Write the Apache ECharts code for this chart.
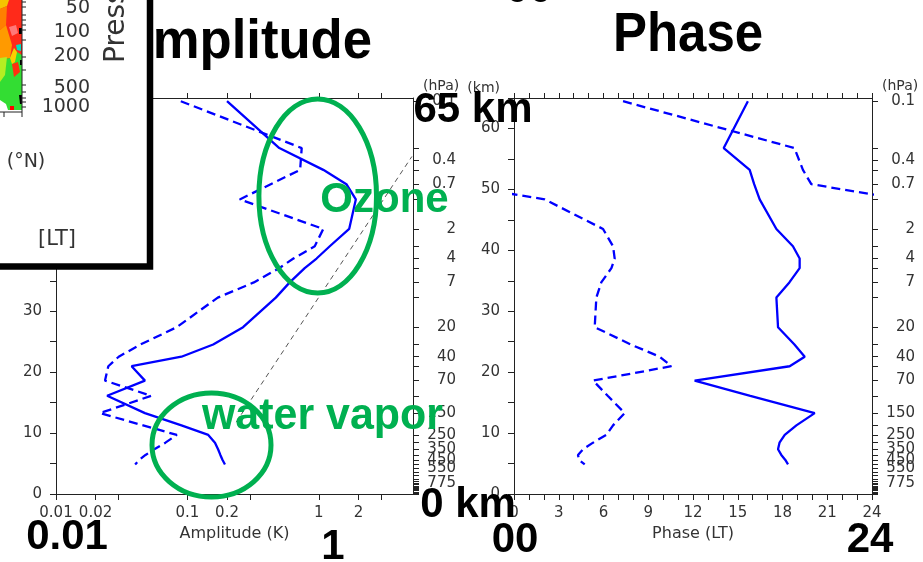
<!DOCTYPE html>
<html><head><meta charset="utf-8">
<script src="https://cdn.jsdelivr.net/npm/echarts@6/dist/echarts.min.js"></script>
<style>html,body{margin:0;padding:0;background:#fff}#c{width:923px;height:562px}</style>
</head><body><div id="c"></div>
<script>
// ---- data ----
const levelsHPa   = [0.1,0.3,0.5,0.7,1,2,3,4,5,7,10,20,30,40,50,70,100,150,200,250,300,350,400,450,500];
const ampSolid    = [0.20,0.50,1.08,1.62,1.91,1.70,1.21,0.96,0.78,0.60,0.47,0.265,0.157,0.090,0.0376,0.0475,0.0245,0.0475,0.090,0.144,0.162,0.171,0.178,0.185,0.193];
const ampDashed   = [0.089,0.74,0.72,0.43,0.25,1.08,0.93,0.64,0.50,0.32,0.17,0.083,0.044,0.030,0.025,0.0236,0.053,0.0216,0.046,0.083,0.068,0.056,0.048,0.043,0.040];
const phaseSolid  = [15.68,14.06,15.8,16.1,16.47,17.59,18.7,19.15,19.15,18.46,17.59,17.7,18.8,19.49,18.48,12.11,15.84,20.16,18.93,18.15,17.8,17.7,17.92,18.19,18.37];
const phaseDashed = [7.31,18.8,19.37,19.93,2.06,5.97,6.64,6.75,6.53,5.85,5.52,5.41,7.82,9.77,10.55,5.3,6.28,7.42,6.64,6.19,5.3,4.63,4.29,4.36,4.74];
const refLineAmp  = [0.235, 5.1];
const refLineKm   = [11.8, 55.4];
const ampTicks    = [0.01,0.02,0.03,0.1,0.2,0.3,1,2,3];
const ampLabels   = [0.01,0.02,0.1,0.2,1,2];
const kmLabels    = [0,10,20,30,40,50,60];
const phaseLabels = [0,3,6,9,12,15,18,21,24];
const pressureTicks  = [0.1,0.3,0.4,0.5,0.7,1,2,3,4,5,7,10,20,30,40,50,70,100,150,200,250,300,350,400,450,500,550,600,650,700,750,775,800,825,850,875,900,925,950,975,1000];
const pressureLabels = ['0.1','0.4','0.7','2','4','7','20','40','70','150','250','350','450','550','775'];
const insetLabels = ['50','100','200','500','1000'];

// pressure (hPa) -> log-pressure height (km), scale height 7 km
const H = 7;
const KM_MAX = 65;
const toKm = p => H * Math.log(1000 / p);
function pressureLabelFor(v){
  for (const s of pressureLabels) if (Math.abs(toKm(+s) - v) < 1e-6) return s;
  return '';
}
// blank guard labels at both ends of the axis (hidden by showMin/MaxLabel:false) so that
// every real, overlapping pressure label stays visible
const presLabelValues = [KM_MAX].concat(pressureLabels.map(s => toKm(+s)), [0]);
const presTickValues = (function(){
  const v = pressureTicks.map(toKm);
  return [v[0]].concat(v, [v[v.length-1]]);
})();

function wrapSegments(vals){
  const segs = [[]];
  for (let i = 0; i < vals.length; i++){
    const z = toKm(levelsHPa[i]);
    if (i > 0){
      const d = vals[i] - vals[i-1];
      if (Math.abs(d) > 12){
        const shift = d < 0 ? 24 : -24;
        segs[segs.length-1].push([vals[i] + shift, z]);
        segs.push([[vals[i-1] - shift, toKm(levelsHPa[i-1])]]);
      }
    }
    segs[segs.length-1].push([vals[i], z]);
  }
  return segs;
}

const AX = '#222';
const LBL = {color:'#333', fontFamily:'DejaVu Sans', fontSize:15};
const NAME = {color:'#333', fontFamily:'DejaVu Sans', fontSize:16};
const SHOWALL = {hideOverlap:false, showMinLabel:true, showMaxLabel:true};

function kmAxis(gi){
  return {type:'value', gridIndex:gi, position:'left', min:0, max:KM_MAX, interval:5,
    axisLine:{show:true, onZero:false, lineStyle:{color:AX}},
    axisTick:{show:true, length:6, lineStyle:{color:AX}},
    axisLabel:Object.assign({show:true, customValues:kmLabels, margin:14}, SHOWALL, LBL),
    splitLine:{show:false},
    name:'(km)', nameLocation:'end', nameGap:3,
    nameTextStyle:Object.assign({align:'right', padding:[0,14,0,0]}, NAME, {fontSize:14})};
}
function presAxis(gi){
  return {type:'value', gridIndex:gi, position:'right', min:0, max:KM_MAX,
    axisLine:{show:true, onZero:false, lineStyle:{color:AX}},
    axisTick:{show:true, length:6, customValues:presTickValues, lineStyle:{color:AX}},
    axisLabel:Object.assign({show:true, customValues:presLabelValues,
      formatter:v => pressureLabelFor(v), align:'right', margin:43, hideOverlap:false,
      showMinLabel:false, showMaxLabel:false}, LBL),
    splitLine:{show:false},
    name:'(hPa)', nameLocation:'end', nameGap:3,
    nameTextStyle:Object.assign({align:'left', padding:[0,0,0,10]}, NAME, {fontSize:14})};
}
function ampAxis(pos){
  const top = pos === 'top';
  return {type:'log', logBase:10, gridIndex:0, position:pos, min:0.01, max:5.2,
    axisLine:{show:true, onZero:false, lineStyle:{color:AX}},
    axisTick:{show:true, length:top?5:6, customValues:ampTicks, lineStyle:{color:AX}},
    axisLabel:Object.assign({show:!top, customValues:ampLabels, margin:12}, SHOWALL, LBL),
    splitLine:{show:false}, minorTick:{show:false},
    name: top ? '' : 'Amplitude (K)', nameLocation:'middle', nameGap:31, nameTextStyle:NAME};
}
function phaseAxis(pos){
  const top = pos === 'top';
  return {type:'value', gridIndex:1, position:pos, min:0, max:24, interval:1,
    axisLine:{show:true, onZero:false, lineStyle:{color:AX}},
    axisTick:{show:true, length:top?5:6, lineStyle:{color:AX}},
    axisLabel:Object.assign({show:!top, customValues:phaseLabels, margin:12}, SHOWALL, LBL),
    splitLine:{show:false},
    name: top ? '' : 'Phase (LT)', nameLocation:'middle', nameGap:31, nameTextStyle:NAME};
}

const BLUE = '#0000ff';
const LW = 2.3;
const series = [
  {type:'line', xAxisIndex:0, yAxisIndex:0, symbol:'none', z:3,
   data: levelsHPa.map((p,i) => [ampSolid[i], toKm(p)]), lineStyle:{color:BLUE, width:LW}},
  {type:'line', xAxisIndex:0, yAxisIndex:0, symbol:'none', z:3,
   data: levelsHPa.map((p,i) => [ampDashed[i], toKm(p)]), lineStyle:{color:BLUE, width:LW, type:[9,5]}},
  {type:'line', xAxisIndex:0, yAxisIndex:0, symbol:'none', z:2,
   data: refLineAmp.map((a,i) => [a, refLineKm[i]]), lineStyle:{color:'#555', width:1, type:[5,4]}},
  {type:'line', xAxisIndex:2, yAxisIndex:2, symbol:'none', z:3,
   data: levelsHPa.map((p,i) => [phaseSolid[i], toKm(p)]), lineStyle:{color:BLUE, width:LW}}
];
wrapSegments(phaseDashed).forEach(seg => series.push(
  {type:'line', xAxisIndex:2, yAxisIndex:2, symbol:'none', z:3, clip:true,
   data: seg, lineStyle:{color:BLUE, width:LW, type:[9,5]}}));

// ---- overlay graphics (slide annotations) ----
const BOLD = '"Liberation Sans", Arial, sans-serif';
function bigText(t, x, y, size, opt){
  return Object.assign({type:'text', x:x, y:y, z:100,
    style:{text:t, fontFamily:BOLD, fontWeight:'bold', fontSize:size, fill:'#000',
      textAlign:'center', align:'center', textVerticalAlign:'middle', verticalAlign:'middle'}}, opt||{});
}
const GREEN = '#00b050';
function greenText(t, x, y, size, sx){
  return {type:'text', x:x, y:y, z:120, scaleX:sx||1,
    style:{text:t, fontFamily:BOLD, fontWeight:'bold', fontSize:size, fill:GREEN,
      textAlign:'center', align:'center', textVerticalAlign:'middle', verticalAlign:'middle'}};
}
function thin(t, x, y, size, align, opt){
  return Object.assign({type:'text', x:x, y:y, z:112,
    style:{text:t, fontFamily:'DejaVu Sans', fontSize:size, fill:'#333',
      textAlign:align, align:align, textVerticalAlign:'middle', verticalAlign:'middle'}}, opt||{});
}
function poly(pts, fill){ return {type:'polygon', z:111, shape:{points:pts}, style:{fill:fill, stroke:null}}; }
function ln(x1,y1,x2,y2){ return {type:'line', z:112, shape:{x1:x1,y1:y1,x2:x2,y2:y2}, style:{stroke:'#222', lineWidth:1}}; }

const insetY = [8, 32, 56, 88, 107];
const insetTickY = [2,7,15,20,25,30,40,57,70,85,92,98,102,107];
const graphics = [
  bigText('Amplitude', 372, 42.6, 56, {scaleX:0.94, style:{text:'Amplitude', fontFamily:BOLD, fontWeight:'bold', fontSize:56, fill:'#000', textAlign:'right', align:'right', textVerticalAlign:'middle', verticalAlign:'middle'}}),
  bigText('Phase', 688, 35.6, 56, {scaleX:0.91}),
  bigText('00', 529, -9.5, 42),
  bigText('65 km', 473, 110.5, 42, {z:130}),
  bigText('0 km', 468, 505.5, 42, {z:130}),
  bigText('0.01', 67, 537.5, 42),
  bigText('1', 333, 547.5, 42),
  bigText('00', 515, 540.5, 42),
  bigText('24', 870, 540.5, 42),
  // green annotations
  {type:'ellipse', z:120, shape:{cx:317.7, cy:196, rx:58.8, ry:97}, style:{fill:null, stroke:GREEN, lineWidth:5}},
  {type:'ellipse', z:120, shape:{cx:211.5, cy:445, rx:59.5, ry:52}, style:{fill:null, stroke:GREEN, lineWidth:5}},
  greenText('Ozone', 384.5, 200.5, 42),
  greenText('water vapor', 322.5, 416.8, 44, 0.976),
  // inset box
  {type:'rect', z:110, shape:{x:-10, y:-10, width:160, height:276.5}, style:{fill:'#fff', stroke:'#000', lineWidth:6.5}},
  poly([[0,0],[22,0],[22,60],[0,60]], '#ff2a1a'),
  poly([[0,0],[9,0],[7,6],[0,9]], '#f5c400'),
  poly([[0,9],[7,6],[6,25],[0,30]], '#ff8000'),
  poly([[9,27],[16,25],[18,33],[12,36]], '#ff7878'),
  poly([[0,30],[6,25],[12,45],[10,58],[0,60]], '#ff9a00'),
  poly([[0,60],[10,58],[14,48],[17,52],[22,55],[22,110],[0,110]], '#33dd33'),
  poly([[0,58],[7,57],[5,75],[0,82]], '#b5ee22'),
  poly([[12,64],[18,62],[20,72],[14,77]], '#ff3010'),
  poly([[10,58],[14,48],[17,52],[15,62],[12,64]], '#ffcc00'),
  poly([[16,45],[21,44],[21,51],[17,50]], '#00e0c0'),
  poly([[19,28],[22,28],[22,34],[19,34]], '#000'),
  poly([[19,95],[22,95],[22,104],[20,104]], '#000'),
  poly([[20,60],[22,60],[22,65],[20,65]], '#000'),
  poly([[0,100],[6,104],[8,110],[0,110]], '#fff'),
  poly([[10,106],[14,106],[14,110],[10,110]], '#ff0000'),
  ln(22,0,22,112), ln(0,112,22,112), ln(4,112,4,117), ln(22,112,22,117),
  thin('Pressure', 117, 63, 28, 'left', {rotation:Math.PI/2}),
  thin('(°N)', 26, 162, 19, 'center'),
  thin('[LT]', 57, 240, 21, 'center')
];
insetTickY.forEach(y => graphics.push(ln(22, y, 26, y)));
insetLabels.forEach((t,i) => graphics.push(thin(t, 90, insetY[i], 19, 'right')));

const option = {
  animation:false,
  backgroundColor:'#fff',
  grid:[
    {left:56, right:510, top:98, bottom:68, containLabel:false, outerBoundsMode:'none'},
    {left:514, right:51, top:98, bottom:68, containLabel:false, outerBoundsMode:'none'}
  ],
  xAxis:[ampAxis('bottom'), ampAxis('top'), phaseAxis('bottom'), phaseAxis('top')],
  yAxis:[kmAxis(0), presAxis(0), kmAxis(1), presAxis(1)],
  series:series,
  graphic:graphics
};
const chart = echarts.init(document.getElementById('c'), null, {renderer:'canvas'});
chart.setOption(option);
</script>
</body></html>
